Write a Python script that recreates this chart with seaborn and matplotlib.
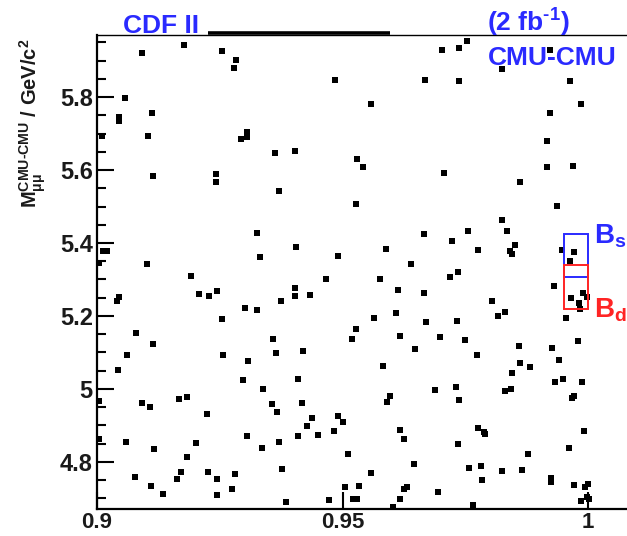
import matplotlib
matplotlib.use("Agg")
import matplotlib.pyplot as plt
import matplotlib.ticker as mticker
from matplotlib.patches import Rectangle
import pandas as pd
import seaborn as sns

# ---- data ----
x_vals = [
    0.9178, 0.9092, 0.9254, 0.9282, 0.9278, 0.9058, 0.9111, 0.9045, 0.9045, 0.9011,
    0.9104, 0.9306, 0.9305, 0.9293, 0.9115, 0.9242, 0.9242, 0.9485, 0.9667, 0.9557,
    0.9363, 0.9403, 0.9530, 0.9542, 0.9371, 0.9754, 0.9703, 0.9736, 0.9923, 0.9824,
    0.9737, 0.9962, 0.9985, 0.9922, 0.9916, 0.9707, 0.9916, 0.9970, 0.9862, 0.9326,
    0.9331, 0.9013, 0.9021, 0.9004, 0.9101, 0.9191, 0.9045, 0.9041, 0.9207, 0.9228,
    0.9245, 0.9301, 0.9326, 0.9254, 0.9079, 0.9115, 0.9062, 0.9257, 0.9528, 0.9665,
    0.9405, 0.9491, 0.9589, 0.9640, 0.9466, 0.9576, 0.9403, 0.9403, 0.9434, 0.9374,
    0.9612, 0.9665, 0.9563, 0.9609, 0.9670, 0.9527, 0.9520, 0.9616, 0.9359, 0.9364,
    0.9420, 0.9648, 0.9936, 0.9825, 0.9755, 0.9835, 0.9722, 0.9776, 0.9850, 0.9840,
    0.9845, 0.9946, 0.9972, 0.9962, 0.9735, 0.9719, 0.9931, 0.9990, 0.9997, 0.9965,
    0.9982, 0.9984, 0.9804, 0.9830, 0.9816, 0.9733, 0.9955, 0.9699, 0.9749, 0.9859,
    0.9927, 0.9980, 0.9773, 0.9043, 0.9307, 0.9297, 0.9337, 0.9004, 0.9092, 0.9108,
    0.9166, 0.9184, 0.9223, 0.9004, 0.9059, 0.9116, 0.9201, 0.9184, 0.9306, 0.9335,
    0.9077, 0.9109, 0.9135, 0.9162, 0.9170, 0.9225, 0.9244, 0.9281, 0.9274, 0.9244,
    0.9583, 0.9410, 0.9356, 0.9366, 0.9418, 0.9438, 0.9428, 0.9409, 0.9449, 0.9491,
    0.9500, 0.9483, 0.9590, 0.9597, 0.9617, 0.9624, 0.9371, 0.9511, 0.9376, 0.9557,
    0.9646, 0.9504, 0.9534, 0.9522, 0.9530, 0.9473, 0.9385, 0.9625, 0.9632, 0.9616,
    0.9602, 0.9862, 0.9882, 0.9940, 0.9845, 0.9688, 0.9731, 0.9737, 0.9830, 0.9843,
    0.9933, 0.9948, 0.9988, 0.9967, 0.9971, 0.9775, 0.9790, 0.9788, 0.9992, 0.9735,
    0.9961, 0.9877, 0.9758, 0.9781, 0.9824, 0.9866, 0.9784, 0.9925, 0.9925, 0.9971,
    0.9999, 0.9994, 0.9695, 0.9765, 0.9986, 0.9998, 1.0001,
]
y_vals = [
    5.943, 5.921, 5.926, 5.902, 5.879, 5.796, 5.757, 5.744, 5.735, 5.694,
    5.694, 5.705, 5.691, 5.684, 5.584, 5.588, 5.566, 5.847, 5.848, 5.781,
    5.647, 5.651, 5.630, 5.609, 5.542, 5.954, 5.929, 5.935, 5.929, 5.878,
    5.844, 5.845, 5.781, 5.755, 5.679, 5.592, 5.607, 5.610, 5.568, 5.428,
    5.362, 5.377, 5.377, 5.344, 5.342, 5.310, 5.253, 5.242, 5.259, 5.254,
    5.269, 5.221, 5.215, 5.192, 5.153, 5.124, 5.093, 5.093, 5.507, 5.425,
    5.388, 5.365, 5.384, 5.342, 5.301, 5.302, 5.277, 5.255, 5.258, 5.240,
    5.271, 5.264, 5.194, 5.207, 5.184, 5.164, 5.136, 5.146, 5.136, 5.099,
    5.105, 5.110, 5.502, 5.464, 5.433, 5.434, 5.406, 5.382, 5.395, 5.379,
    5.370, 5.381, 5.375, 5.352, 5.321, 5.306, 5.282, 5.264, 5.253, 5.250,
    5.235, 5.220, 5.240, 5.211, 5.200, 5.186, 5.194, 5.142, 5.135, 5.117,
    5.112, 5.132, 5.093, 5.052, 5.076, 5.025, 4.999, 4.966, 4.962, 4.950,
    4.973, 4.979, 4.931, 4.862, 4.854, 4.836, 4.853, 4.813, 4.870, 4.838,
    4.760, 4.734, 4.712, 4.753, 4.772, 4.772, 4.754, 4.766, 4.725, 4.709,
    5.064, 5.027, 4.959, 4.938, 4.962, 4.921, 4.898, 4.872, 4.874, 4.927,
    4.909, 4.885, 4.965, 4.982, 4.888, 4.862, 4.854, 4.822, 4.781, 4.771,
    4.795, 4.731, 4.734, 4.699, 4.699, 4.696, 4.691, 4.725, 4.732, 4.699,
    4.676, 5.072, 5.061, 5.078, 5.043, 4.998, 5.005, 4.971, 4.995, 4.999,
    5.020, 5.027, 5.018, 4.976, 4.982, 4.894, 4.876, 4.883, 4.885, 4.849,
    4.838, 4.822, 4.784, 4.789, 4.775, 4.779, 4.751, 4.755, 4.746, 4.737,
    4.740, 4.732, 4.717, 4.682, 4.694, 4.705, 4.699,
]

# signal windows: [x_low, x_high, mass_low, mass_high]
bs_window = [0.995, 1.0, 5.306, 5.426]
bd_window = [0.995, 1.0, 5.219, 5.339]

x_ticks = [0.9, 0.95, 1.0]
x_tick_labels = ["0.9", "0.95", "1"]
y_ticks = [4.8, 5.0, 5.2, 5.4, 5.6, 5.8]
y_tick_labels = ["4.8", "5", "5.2", "5.4", "5.6", "5.8"]

# ---- style ----
sns.set_style("ticks")
plt.rcParams["font.family"] = ["Liberation Sans", "DejaVu Sans"]
plt.rcParams["mathtext.fontset"] = "custom"
plt.rcParams["mathtext.rm"] = "Liberation Sans:bold"
plt.rcParams["mathtext.it"] = "Liberation Sans:bold"
plt.rcParams["mathtext.bf"] = "Liberation Sans:bold"
plt.rcParams["mathtext.sf"] = "Liberation Sans:bold"

BLUE = "#2a2aff"
RED = "#ff2424"
W, H = 627, 536

fig = plt.figure(figsize=(W / 100, H / 100), dpi=100)
ax = fig.add_axes([97 / W, (H - 509) / H, (W - 97) / W, (509 - 35) / H])

df = pd.DataFrame({"x": x_vals, "y": y_vals})
sns.scatterplot(data=df, x="x", y="y", marker="s", s=14, color="black",
                linewidth=0, ax=ax, legend=False, zorder=3)

ax.set_xlim(0.9, 1.0079)
ax.set_ylim(4.671, 5.970)

ax.set_xticks(x_ticks)
ax.set_xticklabels(x_tick_labels, fontsize=16, fontweight="bold", color="#1a1a1a")
ax.set_yticks(y_ticks)
ax.set_yticklabels(y_tick_labels, fontsize=17, fontweight="bold", color="#1a1a1a")
ax.yaxis.set_minor_locator(mticker.MultipleLocator(0.05))
ax.xaxis.set_minor_locator(mticker.NullLocator())
ax.tick_params(axis="both", which="major", direction="in", length=12, width=1.5, color="black")
ax.tick_params(axis="y", which="minor", direction="in", length=6.5, width=1.5, color="black")
ax.tick_params(axis="x", which="major", pad=2.5)
ax.tick_params(axis="y", which="major", pad=3)
ax.set_xlabel("")
ax.set_ylabel("")

for side in ["left", "bottom"]:
    ax.spines[side].set_linewidth(1.6)
    ax.spines[side].set_color("black")
ax.spines["top"].set_linewidth(1.0)
ax.spines["top"].set_color("black")
ax.spines["right"].set_visible(False)

# thick segment on the top frame
ax.plot([0.2094, 0.5528], [1.004, 1.004], transform=ax.transAxes, color="black",
        lw=2.6, solid_capstyle="butt", clip_on=False, zorder=5)

# signal boxes
for win, col in [(bs_window, BLUE), (bd_window, RED)]:
    ax.add_patch(Rectangle((win[0], win[2]), win[1] - win[0], win[3] - win[2],
                           fill=False, edgecolor=col, lw=1.4, zorder=4))

# texts
fig.text(122.7 / W, 1 - 33.3 / H, "CDF II", color=BLUE, fontsize=19,
         fontweight="bold", ha="left", va="baseline")
fig.text(486.7 / W, 1 - 31.7 / H, r"(2 fb$^{\text{-}1}$)", color=BLUE, fontsize=19,
         fontweight="bold", ha="left", va="baseline")
fig.text(488.3 / W, 1 - 65 / H, "CMU-CMU", color=BLUE, fontsize=19,
         fontweight="bold", ha="left", va="baseline")
fig.text(594 / W, 1 - 243 / H, r"$\mathrm{B}_{\mathrm{s}}$", color=BLUE, fontsize=20,
         ha="left", va="baseline")
fig.text(594 / W, 1 - 317 / H, r"$\mathrm{B}_{\mathrm{d}}$", color=RED, fontsize=20,
         ha="left", va="baseline")

fig.text(33 / W, 1 - 38 / H,
         r"$\mathrm{M}_{\mu\mu}^{\mathrm{CMU\text{-}CMU}}$ / GeV/c$^{2}$",
         rotation=90, fontsize=14.5, fontweight="bold", ha="center", va="top",
         color="#1a1a1a")

fig.savefig("out.png", dpi=100)
